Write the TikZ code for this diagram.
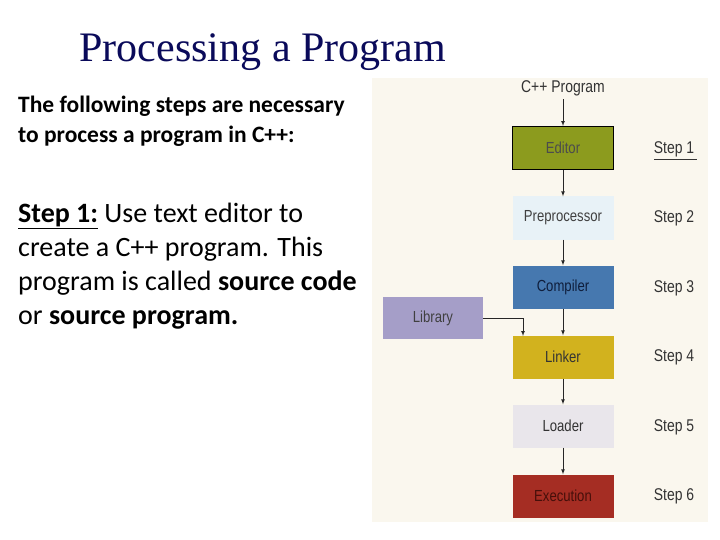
\documentclass[tikz,border=0pt]{standalone}
\usepackage{fontspec}
\setmainfont{Carlito}
\newfontfamily\titlefont{Liberation Serif}
\newfontfamily\diafont{Liberation Sans}
\definecolor{navy}{RGB}{10,10,90}
\definecolor{panel}{RGB}{250,247,238}
\definecolor{edc}{RGB}{140,155,30}
\definecolor{prec}{RGB}{232,242,247}
\definecolor{compc}{RGB}{70,120,175}
\definecolor{compt}{RGB}{15,30,60}
\definecolor{linkc}{RGB}{210,178,30}
\definecolor{loadc}{RGB}{233,230,235}
\definecolor{exec}{RGB}{165,45,35}
\definecolor{exet}{RGB}{70,15,10}
\definecolor{libc}{RGB}{165,158,200}
\begin{document}
\begin{tikzpicture}[x=1pt,y=-1pt,
  box/.style={minimum width=101pt,minimum height=43pt,inner sep=0pt,font=\diafont\fontsize{16}{16}\selectfont\addfontfeature{FakeStretch=0.82}},
  steplab/.style={font=\diafont\fontsize{17}{17}\selectfont\addfontfeature{FakeStretch=0.82},text=black!80},
  arr/.style={-latex,black!85,line width=0.7pt}]
\useasboundingbox (0,0) rectangle (720,540);
\fill[white] (0,0) rectangle (720,540);
\node[anchor=west,font=\titlefont\fontsize{42}{42}\selectfont,text=navy] (title) at (76,52) {Processing a Program};
\node[anchor=north west,align=left,inner sep=0pt,font=\fontsize{23.5}{30}\selectfont\bfseries] (intro) at (18,96) {The following steps are necessary\\to process a program in C++:};
\node[anchor=north west,align=left,inner sep=0pt,font=\fontsize{28}{34}\selectfont] (s1) at (18,203) {\textbf{\underline{Step 1:} }Use text editor to\\create a C++ program. This\\program is called \textbf{source code}\\or \textbf{source program.}};
\fill[panel] (372,78) rectangle (708,522);
\node[font=\diafont\fontsize{17}{17}\selectfont\addfontfeature{FakeStretch=0.82},text=black!80] (prog) at (563,88) {C++ Program};
\node[box,draw=black,line width=1pt,fill=edc,text=black!70] (ed) at (563,148) {Editor};
\node[box,fill=prec,text=black!75] (pre) at (563,218) {Preprocessor};
\node[box,fill=compc,text=compt] (comp) at (563,287) {Compiler};
\node[box,fill=linkc,text=black!80] (link) at (563,357) {Linker};
\node[box,fill=loadc,text=black!80] (load) at (563,426) {Loader};
\node[box,fill=exec,text=exet] (exe) at (563,496) {Execution};
\node[box,minimum width=100pt,minimum height=42pt,fill=libc,text=black!75] (lib) at (433,318) {Library};
\draw[arr] (prog) -- (ed);
\draw[arr] (ed) -- (pre);
\draw[arr] (pre) -- (comp);
\draw[arr] (comp) -- (link);
\draw[arr] (link) -- (load);
\draw[arr] (load) -- (exe);
\coordinate (lk) at (523,336);
\draw[arr] (lib.east) -| (lk);
\node[steplab] (st1) at (674,149) {Step 1};
\draw[black!80,line width=0.8pt] (654,159) -- (697,159);
\node[steplab] (st2) at (674,218) {Step 2};
\node[steplab] (st3) at (674,288) {Step 3};
\node[steplab] (st4) at (674,357) {Step 4};
\node[steplab] (st5) at (674,427) {Step 5};
\node[steplab] (st6) at (674,496) {Step 6};
\end{tikzpicture}
\end{document}
